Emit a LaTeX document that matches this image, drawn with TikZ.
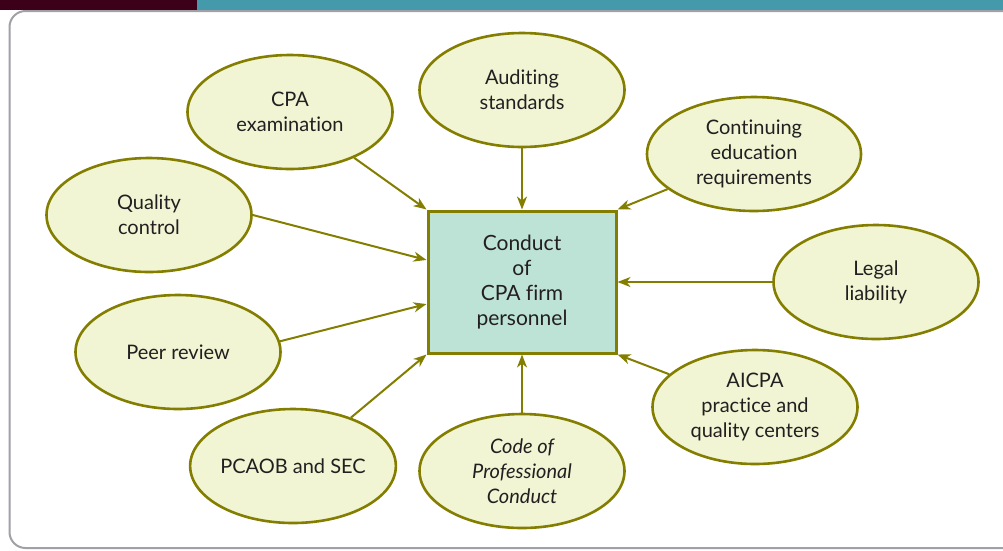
\documentclass[tikz,border=0pt]{standalone}
\usepackage{fontspec}
\setmainfont{Lato}[Ligatures={NoCommon,NoRare,NoDiscretionary}]
\usetikzlibrary{arrows.meta}
\usetikzlibrary{shapes.geometric}
\definecolor{bandred}{HTML}{3C0018}
\definecolor{bandteal}{HTML}{4499AA}
\definecolor{framegrey}{HTML}{A0A0A6}
\definecolor{olive}{HTML}{837E00}
\definecolor{paleyellow}{HTML}{F1F5D4}
\definecolor{palemint}{HTML}{BDE2D6}
\definecolor{inkgrey}{HTML}{231F20}
\tikzstyle{bubble}=[%
  ellipse,
  draw=olive,
  fill=paleyellow,
  line width=2.6pt,
  minimum width=205pt,
  minimum height=114pt,
  inner sep=0pt,
  align=center,
  text=inkgrey,
  font=\fontsize{20}{25}\selectfont
]
\tikzstyle{hub}=[%
  rectangle,
  draw=olive,
  fill=palemint,
  line width=3pt,
  minimum width=188pt,
  minimum height=142pt,
  align=center,
  text=inkgrey,
  font=\fontsize{21}{25}\selectfont
]
\tikzstyle{link}=[%
  draw=olive,
  line width=2pt,
  -{Stealth[length=13pt,width=10pt,inset=4pt]}
]

\begin{document}
\begin{tikzpicture}[x=1pt, y=-1pt]
    \useasboundingbox (0,0) rectangle (1003,550);
    % page frame
    \fill[bandred] (0,0) rectangle (197,10);
    \fill[bandteal] (197,0) rectangle (1003,10);
    \draw[framegrey, line width=2pt, rounded corners=16pt]
      (1003,11) -- (9.5,11) -- (9.5,548) -- (1003,548);

    \node[hub] (box) at (522,282) {Conduct\\of\\CPA firm\\personnel};

    \node[bubble] (cpa) at (290,112) {CPA\\examination};
    \node[bubble] (aud) at (522,90) {Auditing\\standards};
    \node[bubble, minimum width=214pt] (cont) at (754,154) {Continuing\\education\\requirements};
    \node[bubble] (qc) at (149,215) {Quality\\control};
    \node[bubble] (legal) at (876,282) {Legal\\liability};
    \node[bubble] (peer) at (178,352) {Peer review};
    \node[bubble] (aicpa) at (755,407) {AICPA\\practice and\\quality centers};
    \node[bubble] (pcaob) at (293,466) {PCAOB and SEC};
    \node[bubble] (code) at (522,471) {\itshape Code of\\\itshape Professional\\\itshape Conduct};

    \draw[link] (cpa) -- (box.north west);
    \draw[link] (aud) -- (box);
    \draw[link] (cont) -- (box.north east);
    \draw[link] (qc.east) -- (box.167);
    \draw[link] (legal) -- (box);
    \draw[link] (peer.6) -- (box.193);
    \draw[link] (aicpa) -- (box.south east);
    \draw[link] (pcaob) -- (box.south west);
    \draw[link] (code) -- (box);
  \end{tikzpicture}
\end{document}
